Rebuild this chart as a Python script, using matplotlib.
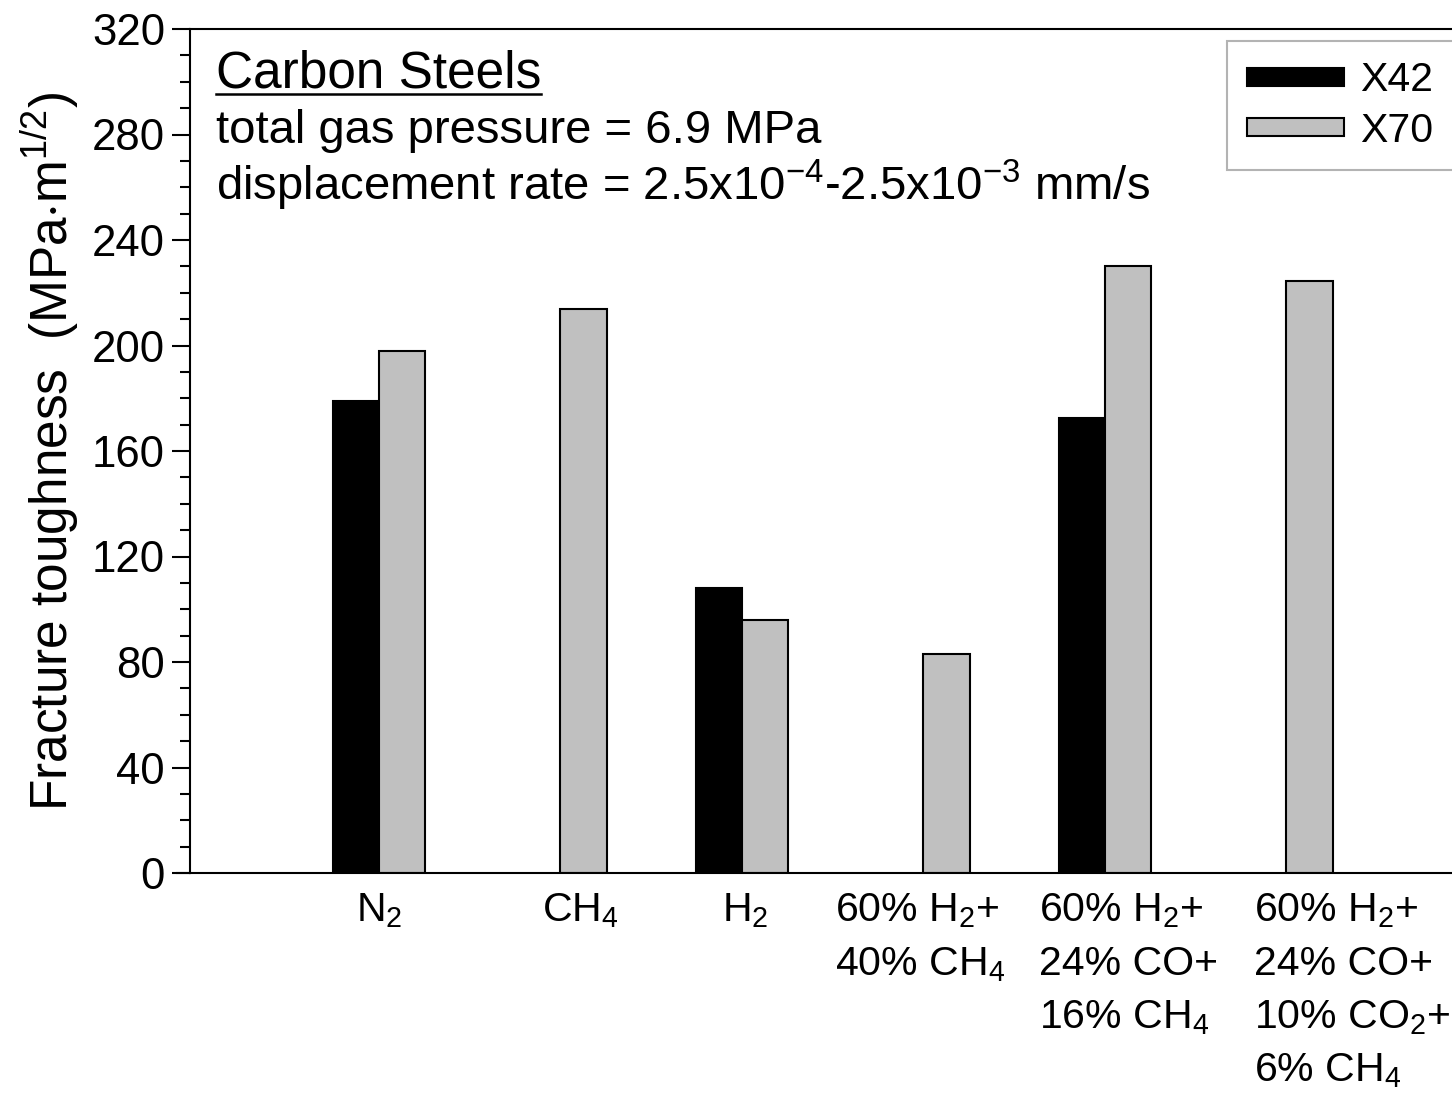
import numpy as np
import matplotlib
matplotlib.use('Agg')
from matplotlib import pyplot as plt
from matplotlib.patches import Patch
from matplotlib.lines import Line2D

plt.rcParams['font.family'] = ['Liberation Sans', 'DejaVu Sans']
plt.rcParams['mathtext.fontset'] = 'custom'
plt.rcParams['mathtext.rm'] = 'Liberation Sans'
plt.rcParams['mathtext.it'] = 'Liberation Sans'
plt.rcParams['mathtext.default'] = 'regular'

# gases / gas mixtures
gases = [r'N$_2$', r'CH$_4$', r'H$_2$',
         '60% H$_2$+\n40% CH$_4$',
         '60% H$_2$+\n24% CO+\n16% CH$_4$',
         '60% H$_2$+\n24% CO+\n10% CO$_2$+\n6% CH$_4$']
# fracture toughness (MPa m^1/2), None = not tested
x42 = [179, None, 108, None, 172.5, None]
x70 = [198, 214, 96, 83, 230, 224.5]

fs = 29.5
fig = plt.figure(figsize=(14.52, 11.01), dpi=100)
ax = fig.add_axes([190/1452, 1 - 873/1101, 1 - 190/1452, (873 - 29)/1101])

w = 0.255
pos = np.arange(len(gases))
for i in range(len(gases)):
  if x42[i] is not None:
    ax.bar(pos[i], x42[i], width=-w, align='edge', color='black', edgecolor='black', linewidth=1.5, zorder=2)
  if x70[i] is not None:
    ax.bar(pos[i], x70[i], width=w, align='edge', color='#c0c0c0', edgecolor='black', linewidth=1.5, zorder=2)

ax.set_xlim(-1.041, 5.912)
ax.set_ylim(0, 320)
ax.set_yticks(np.arange(0, 321, 40))
ax.set_yticks(np.arange(0, 321, 10), minor=True)
ax.tick_params(axis='y', which='major', direction='out', length=13, width=1.5, labelsize=31.5, pad=5)
ax.tick_params(axis='y', which='minor', direction='out', length=7, width=1.5)
ax.set_xticks([])
for s in ['left', 'bottom', 'top']:
  ax.spines[s].set_linewidth(1.5)
ax.spines['right'].set_visible(False)

# bottom spine goes a bit left of the y axis
ax.plot([-1.041 - 13/181.5, -1.041], [0, 0], color='black', lw=1.5, clip_on=False)

# category labels under the groups
offsets = [0.0, 0.11, 0.02, -0.02, 0.13, 0.36]
for i, g in enumerate(gases):
  ax.text(pos[i] + offsets[i], -7, g, ha='center', va='top', fontsize=fs,
          multialignment='left', linespacing=1.5)

ax.set_ylabel('Fracture toughness  (MPa$\\cdot$m$^{1/2}$)', fontsize=37, labelpad=8)

# notes in the upper left
t1 = ax.text(0.0206, (873 - 87)/844, 'Carbon Steels', transform=ax.transAxes, fontsize=37, va='baseline')
ax.text(0.0206, (873 - 143)/844, 'total gas pressure = 6.9 MPa', transform=ax.transAxes, fontsize=34, va='baseline')
ax.text(0.0206, (873 - 200)/844, 'displacement rate = 2.5x10$^{-4}$-2.5x10$^{-3}$ mm/s',
        transform=ax.transAxes, fontsize=34, va='baseline')

fig.canvas.draw()
bb = t1.get_window_extent().transformed(ax.transAxes.inverted())
uy = (873 - 94)/844
ax.add_line(Line2D([bb.x0, bb.x1], [uy, uy], transform=ax.transAxes, color='black', lw=1.8))

handles = [Patch(facecolor='black', edgecolor='black', linewidth=1.5, label='X42'),
           Patch(facecolor='#c0c0c0', edgecolor='black', linewidth=1.5, label='X70')]
leg = ax.legend(handles=handles, loc='upper left', bbox_to_anchor=(0.8217, 0.9858),
                fontsize=fs, frameon=True, fancybox=False, borderaxespad=0,
                handlelength=2.35, handleheight=0.3, labelspacing=0.3,
                handletextpad=0.4, borderpad=0.5)
leg.get_frame().set_edgecolor('#a0a0a0')
leg.get_frame().set_linewidth(1.5)

fig.savefig('out.png', dpi=100)
